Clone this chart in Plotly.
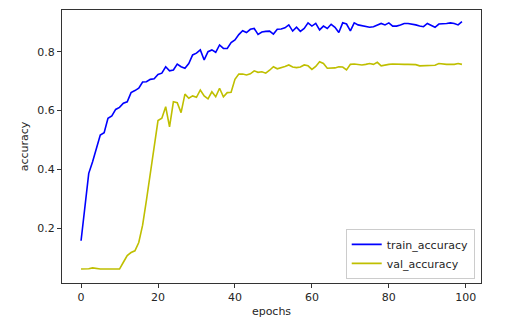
import plotly.graph_objects as go

epochs = list(range(100))

train_accuracy = [
    0.158, 0.279, 0.387, 0.426, 0.472, 0.517, 0.525, 0.574, 0.582, 0.604,
    0.611, 0.625, 0.630, 0.661, 0.668, 0.676, 0.697, 0.698, 0.706, 0.708,
    0.723, 0.727, 0.749, 0.735, 0.738, 0.758, 0.749, 0.744, 0.760, 0.789,
    0.795, 0.806, 0.772, 0.800, 0.806, 0.798, 0.823, 0.811, 0.811, 0.831,
    0.840, 0.858, 0.871, 0.865, 0.876, 0.879, 0.859, 0.867, 0.869, 0.870,
    0.860, 0.876, 0.877, 0.881, 0.891, 0.870, 0.883, 0.869, 0.879, 0.898,
    0.887, 0.896, 0.874, 0.887, 0.879, 0.893, 0.883, 0.865, 0.898, 0.894,
    0.871, 0.898, 0.891, 0.888, 0.885, 0.883, 0.885, 0.891, 0.896, 0.891,
    0.898, 0.887, 0.887, 0.891, 0.896, 0.896, 0.894, 0.891, 0.887, 0.885,
    0.896, 0.889, 0.883, 0.894, 0.894, 0.896, 0.898, 0.896, 0.891, 0.902,
]

val_accuracy = [
    0.062, 0.062, 0.063, 0.066, 0.063, 0.062, 0.062, 0.062, 0.062, 0.062,
    0.062, 0.085, 0.108, 0.118, 0.124, 0.152, 0.211, 0.296, 0.387, 0.478,
    0.566, 0.574, 0.613, 0.545, 0.630, 0.627, 0.593, 0.656, 0.642, 0.650,
    0.645, 0.670, 0.650, 0.640, 0.664, 0.647, 0.676, 0.647, 0.661, 0.662,
    0.706, 0.724, 0.724, 0.721, 0.725, 0.735, 0.730, 0.732, 0.727, 0.737,
    0.749, 0.742, 0.745, 0.750, 0.755, 0.748, 0.746, 0.748, 0.755, 0.752,
    0.740, 0.750, 0.766, 0.760, 0.744, 0.745, 0.745, 0.749, 0.748, 0.738,
    0.757, 0.758, 0.756, 0.755, 0.757, 0.760, 0.757, 0.764, 0.752, 0.755,
    0.757, 0.758, 0.757, 0.757, 0.757, 0.757, 0.757, 0.756, 0.752, 0.752,
    0.752, 0.752, 0.754, 0.760, 0.758, 0.757, 0.757, 0.757, 0.760, 0.757,
]

x_ticks = [0, 20, 40, 60, 80, 100]
y_ticks = [0.2, 0.4, 0.6, 0.8]

FONT = "DejaVu Sans"
TXT = "#262626"
FS = 11

fig = go.Figure()
fig.add_trace(go.Scatter(x=epochs, y=train_accuracy, mode="lines",
                         name="train_accuracy",
                         line=dict(color="#0000ff", width=1.6)))
fig.add_trace(go.Scatter(x=epochs, y=val_accuracy, mode="lines",
                         name="val_accuracy",
                         line=dict(color="#bfbf00", width=1.6)))

axis_common = dict(
    showgrid=False, zeroline=False,
    showline=True, linecolor="#333333", linewidth=1, mirror=True,
    ticks="outside", ticklen=4, tickwidth=1, tickcolor="#333333",
    tickfont=dict(family=FONT, size=FS, color=TXT),
)

fig.update_layout(
    width=525, height=333,
    margin=dict(l=62, r=44, t=10, b=50),
    paper_bgcolor="white", plot_bgcolor="white",
    font=dict(family=FONT, size=FS, color=TXT),
    hovermode=False,
    xaxis=dict(range=[-4.95, 103.95], tickvals=x_ticks,
               title=dict(text="epochs", font=dict(family=FONT, size=FS, color=TXT), standoff=4),
               **axis_common),
    yaxis=dict(range=[0.0146, 0.9416], tickvals=y_ticks,
               tickformat=".1f",
               title=dict(text="accuracy", font=dict(family=FONT, size=FS, color=TXT), standoff=6),
               **axis_common),
    legend=dict(x=0.985, y=0.015, xanchor="right", yanchor="bottom",
                bgcolor="rgba(255,255,255,0.8)", bordercolor="#cccccc", borderwidth=1,
                font=dict(family=FONT, size=FS, color=TXT),
                tracegroupgap=0, itemwidth=30),
    showlegend=True,
)

fig.write_html("out.html")
